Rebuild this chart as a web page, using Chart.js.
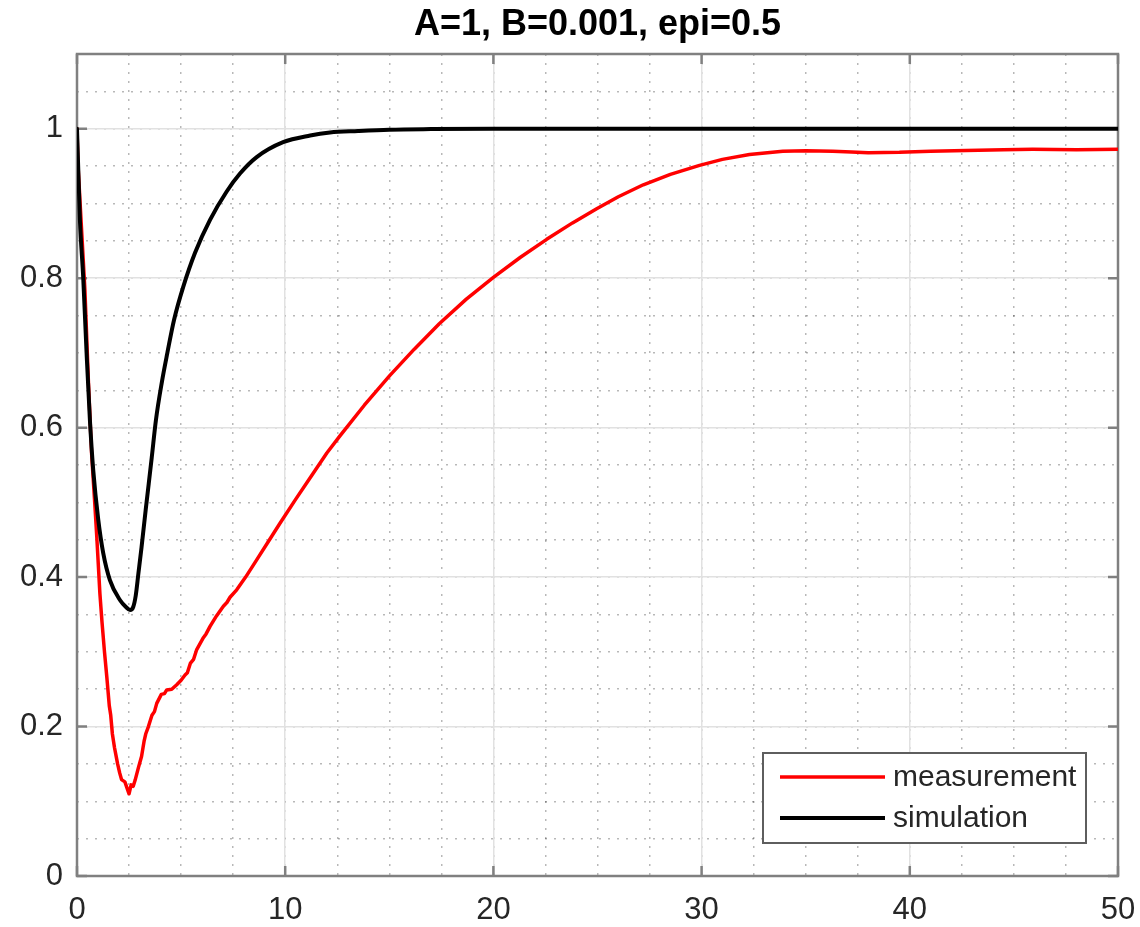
<!DOCTYPE html>
<html>
<head>
<meta charset="utf-8">
<title>A=1, B=0.001, epi=0.5</title>
<script src="https://cdn.jsdelivr.net/npm/chart.js@4.4.1/dist/chart.umd.min.js"></script>
<style>
  html, body { margin: 0; padding: 0; background: #fff; }
  canvas { display: block; }
</style>
</head>
<body>
<canvas id="chart" width="1140" height="927"></canvas>
<script>
// chart data
const chartTitle = 'A=1, B=0.001, epi=0.5';
const seriesNames = ['measurement', 'simulation'];

const measTime = [0, 0.05, 0.15, 0.38, 0.55, 0.70, 0.85, 0.95, 1.10, 1.20,
  1.32, 1.43, 1.55, 1.62, 1.70, 1.80, 1.95, 2.05, 2.14, 2.30,
  2.40, 2.50, 2.60, 2.70, 2.79, 2.95, 3.10, 3.22, 3.30, 3.43,
  3.60, 3.72, 3.83, 4.05, 4.20, 4.31, 4.55, 4.79, 5.00, 5.19,
  5.30, 5.45, 5.60, 5.75, 6.05, 6.20, 6.39, 6.70, 7.03, 7.20,
  7.35, 7.67, 8.10, 8.63, 9.20, 9.75, 10.5, 11.2, 12.0, 12.63,
  13.8, 15.03, 16.2, 17.4, 18.7, 20.0, 21.3, 22.56, 23.8, 24.96,
  26.0, 27.2, 28.5, 29.9, 31.0, 32.3, 33.9, 35.0, 36.3, 37.2,
  38.0, 39.5, 41.0, 42.7, 44.5, 45.9, 48.0, 50.0];
const measValue = [1.0, 0.95, 0.90, 0.784, 0.66, 0.566, 0.50, 0.454, 0.378, 0.34,
  0.30, 0.267, 0.228, 0.215, 0.19, 0.172, 0.15, 0.138, 0.129, 0.126,
  0.118, 0.11, 0.122, 0.12, 0.128, 0.145, 0.16, 0.18, 0.19, 0.20,
  0.215, 0.22, 0.231, 0.243, 0.244, 0.249, 0.25, 0.256, 0.262, 0.269,
  0.272, 0.285, 0.29, 0.303, 0.318, 0.324, 0.334, 0.348, 0.361, 0.366,
  0.373, 0.383, 0.40, 0.423, 0.448, 0.472, 0.504, 0.533, 0.566, 0.589,
  0.630, 0.670, 0.705, 0.739, 0.772, 0.801, 0.828, 0.852, 0.874, 0.893,
  0.909, 0.925, 0.939, 0.951, 0.959, 0.9655, 0.970, 0.9705, 0.970, 0.969,
  0.968, 0.9685, 0.970, 0.971, 0.972, 0.9725, 0.972, 0.9727];

const simTime = [0, 0.14, 0.30, 0.46, 0.62, 0.78, 1.02, 1.26, 1.58, 2.07,
  2.35, 2.55, 2.70, 2.82, 2.95, 3.10, 3.30, 3.59, 3.79, 4.07,
  4.34, 4.66, 5.11, 5.67, 6.39, 7.19, 7.83, 8.63, 9.9, 11.2,
  12.15, 13.5, 15.0, 17.0, 20.0, 50.0];
const simValue = [1.0, 0.878, 0.80, 0.70, 0.61, 0.543, 0.477, 0.432, 0.396, 0.369,
  0.36, 0.356, 0.36, 0.375, 0.405, 0.44, 0.49, 0.56, 0.61, 0.66,
  0.70, 0.744, 0.789, 0.834, 0.878, 0.916, 0.940, 0.962, 0.982, 0.991,
  0.995, 0.997, 0.9987, 0.9995, 1.0, 1.0];

const xTicks = [0, 10, 20, 30, 40, 50];
const yTicks = [0, 0.2, 0.4, 0.6, 0.8, 1];
const xRange = [0, 50];
const yRange = [0, 1.1];
const xMinorStep = 2.5;
const yMinorStep = 0.05;

const fontFamily = '"Liberation Sans", Arial, Helvetica, sans-serif';
const axisColor = '#808080';
const textColor = '#262626';

function toPoints(xs, ys) {
  return xs.map((x, i) => ({ x: x, y: ys[i] }));
}

// box round the axes with inward ticks, like matlab
const axesBox = {
  id: 'axesBox',
  beforeDatasetsDraw(chart) {
    const { ctx, chartArea: a, scales } = chart;
    const len = 10;
    ctx.save();
    ctx.strokeStyle = axisColor;
    ctx.lineWidth = 2.5;
    ctx.beginPath();
    scales.x.ticks.forEach(t => {
      const px = scales.x.getPixelForValue(t.value);
      ctx.moveTo(px, a.bottom);
      ctx.lineTo(px, a.bottom - len);
      ctx.moveTo(px, a.top);
      ctx.lineTo(px, a.top + len);
    });
    scales.y.ticks.forEach(t => {
      const py = scales.y.getPixelForValue(t.value);
      ctx.moveTo(a.left, py);
      ctx.lineTo(a.left + len, py);
      ctx.moveTo(a.right, py);
      ctx.lineTo(a.right - len, py);
    });
    ctx.stroke();
    ctx.strokeRect(a.left, a.top, a.right - a.left, a.bottom - a.top);
    ctx.restore();
  }
};

// legend in the lower right corner of the plot
const cornerLegend = {
  id: 'cornerLegend',
  afterDraw(chart) {
    const { ctx, chartArea } = chart;
    const w = 323, h = 90;
    const left = chartArea.right - 32 - w;
    const top = chartArea.bottom - 33 - h;
    ctx.save();
    ctx.fillStyle = '#fff';
    ctx.fillRect(left, top, w, h);
    ctx.strokeStyle = '#5e5e5e';
    ctx.lineWidth = 2;
    ctx.strokeRect(left, top, w, h);
    ctx.font = '30px ' + fontFamily;
    ctx.textBaseline = 'middle';
    chart.data.datasets.forEach((ds, i) => {
      const y = top + 24 + i * 41;
      ctx.strokeStyle = ds.borderColor;
      ctx.lineWidth = ds.borderWidth;
      ctx.beginPath();
      ctx.moveTo(left + 17, y);
      ctx.lineTo(left + 122, y);
      ctx.stroke();
      ctx.fillStyle = textColor;
      ctx.fillText(ds.label, left + 130, y + 1);
    });
    ctx.restore();
  }
};

const minorGrid = {
  color: 'rgba(0, 0, 0, 0.28)',
  lineWidth: 1.5,
  drawTicks: false,
  z: -2
};

new Chart(document.getElementById('chart'), {
  type: 'line',
  data: {
    datasets: [{
      label: seriesNames[0],
      data: toPoints(measTime, measValue),
      borderColor: '#ff0000',
      borderWidth: 3.5,
      tension: 0,
      order: 1
    }, {
      label: seriesNames[1],
      data: toPoints(simTime, simValue),
      borderColor: '#000000',
      borderWidth: 4,
      cubicInterpolationMode: 'monotone',
      order: 0
    }]
  },
  options: {
    responsive: false,
    animation: false,
    parsing: false,
    layout: { padding: { left: 0, right: 22, top: 0, bottom: 0 } },
    elements: {
      point: { radius: 0 },
      line: { borderJoinStyle: 'round', borderCapStyle: 'round' }
    },
    plugins: {
      legend: { display: false },
      tooltip: { enabled: false },
      title: {
        display: true,
        fullSize: false,
        text: chartTitle,
        color: '#000',
        font: { family: fontFamily, size: 36, weight: 'bold' },
        padding: { top: 3, bottom: 7.8 }
      }
    },
    scales: {
      xMinor: {
        type: 'linear',
        position: 'bottom',
        min: xRange[0],
        max: xRange[1],
        ticks: { display: false, stepSize: xMinorStep, maxTicksLimit: 100 },
        grid: minorGrid,
        border: { display: false, dash: [2, 7] },
        afterFit: s => { s.height = 0; }
      },
      yMinor: {
        type: 'linear',
        position: 'left',
        min: yRange[0],
        max: yRange[1],
        ticks: { display: false, stepSize: yMinorStep, maxTicksLimit: 100 },
        grid: minorGrid,
        border: { display: false, dash: [2, 7] },
        afterFit: s => { s.width = 0; }
      },
      x: {
        type: 'linear',
        position: 'bottom',
        min: xRange[0],
        max: xRange[1],
        afterBuildTicks: s => { s.ticks = xTicks.map(v => ({ value: v })); },
        afterFit: s => { s.height = 51; s.paddingLeft = 0; s.paddingRight = 0; },
        ticks: {
          autoSkip: false,
          maxRotation: 0,
          padding: 16,
          color: textColor,
          font: { family: fontFamily, size: 31 },
          callback: v => String(v)
        },
        grid: { color: '#e1e1e1', lineWidth: 1.5, drawTicks: false },
        border: { display: false }
      },
      y: {
        type: 'linear',
        position: 'left',
        min: yRange[0],
        max: yRange[1],
        afterBuildTicks: s => { s.ticks = yTicks.map(v => ({ value: v })); },
        afterFit: s => { s.width = 77; s.paddingTop = 0; s.paddingBottom = 0; },
        ticks: {
          autoSkip: false,
          padding: 14,
          color: textColor,
          font: { family: fontFamily, size: 31 },
          callback: v => String(v)
        },
        grid: { color: '#e1e1e1', lineWidth: 1.5, drawTicks: false },
        border: { display: false }
      }
    }
  },
  plugins: [axesBox, cornerLegend]
});
</script>
</body>
</html>
